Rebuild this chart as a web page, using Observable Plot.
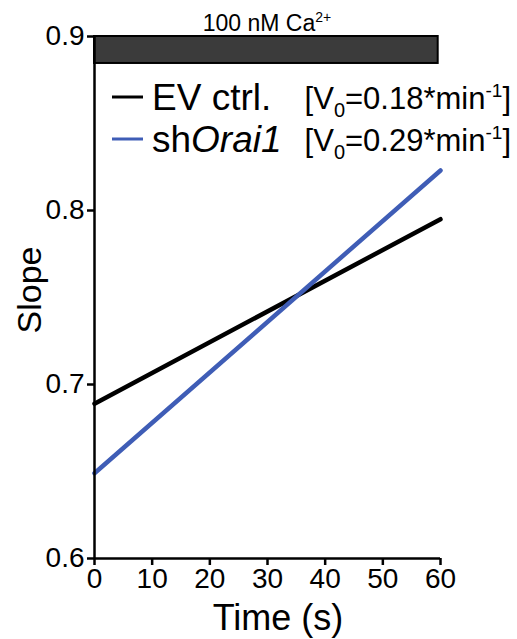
<!DOCTYPE html>
<html>
<head>
<meta charset="utf-8">
<script src="https://cdn.jsdelivr.net/npm/d3@7"></script>
<script src="https://cdn.jsdelivr.net/npm/@observablehq/plot@0.6"></script>
<style>
  body { margin: 0; background: #fff; }
  #chart { position: relative; width: 517px; height: 639px; }
  svg { font-family: "Liberation Sans", Arial, sans-serif; }
</style>
</head>
<body>
<div id="chart"></div>
<script>
// ---- data ----
const seriesNames = ["EV ctrl.", "shOrai1"];
const seriesColors = ["#000000", "#3f5db6"];
const timePoints = [0, 60];
const evValues = [0.689, 0.795];
const orai1Values = [0.649, 0.823];
const rateLabels = ["0.18", "0.29"];
const xTicks = [0, 10, 20, 30, 40, 50, 60];
const yTicks = [0.6, 0.7, 0.8, 0.9];
const stimulusLabel = "100 nM Ca";
const stimulusStart = [0];
const stimulusEnd = [59.6];
const stimulusBottom = [0.8845];
const stimulusTop = [0.9];

const lineData = [
  ...timePoints.map((t, i) => ({series: seriesNames[0], time: t, slope: evValues[i]})),
  ...timePoints.map((t, i) => ({series: seriesNames[1], time: t, slope: orai1Values[i]}))
];
const barData = stimulusStart.map((s, i) => ({x1: s, x2: stimulusEnd[i], y1: stimulusBottom[i], y2: stimulusTop[i]}));

const plot = Plot.plot({
  width: 517,
  height: 639,
  marginLeft: 94,
  marginRight: 77,
  marginTop: 36,
  marginBottom: 81,
  style: {fontFamily: '"Liberation Sans", Arial, sans-serif', background: "#fff", color: "#000"},
  x: {domain: [0, 60]},
  y: {domain: [0.6, 0.9]},
  color: {domain: seriesNames, range: seriesColors},
  marks: [
    Plot.line(lineData, {x: "time", y: "slope", stroke: "series", strokeWidth: 4.5, strokeLinecap: "round"}),
    Plot.rect(barData, {x1: "x1", x2: "x2", y1: "y1", y2: "y2", fill: "#3b3b3b", stroke: "#000", strokeWidth: 2}),
    Plot.ruleX([0], {strokeWidth: 2.5}),
    Plot.ruleY([0.6], {strokeWidth: 2.5}),
    Plot.axisX({ticks: xTicks, tickSize: 7, tickPadding: 3, strokeWidth: 2.5, fontSize: 28, tickFormat: d3.format("d"), label: null}),
    Plot.axisY({ticks: yTicks, tickSize: 7, tickPadding: 3, strokeWidth: 2.5, fontSize: 28, tickFormat: d3.format(".1f"), label: null}),
  ]
});
document.getElementById("chart").appendChild(plot);

const svg = d3.select(plot);
const xs = plot.scale("x"), ys = plot.scale("y");
const font = '"Liberation Sans", Arial, sans-serif';

// axis titles
svg.append("text").attr("x", 278).attr("y", 630)
  .attr("text-anchor", "middle").attr("font-size", 36).attr("font-family", font).text("Time (s)");
svg.append("text").attr("transform", "translate(41,290) rotate(-90)")
  .attr("text-anchor", "middle").attr("font-size", 34).attr("font-family", font).text("Slope");

// stimulus label
const st = svg.append("text").attr("x", xs.apply(30)).attr("y", 31)
  .attr("text-anchor", "middle").attr("font-size", 23).attr("font-family", font);
st.append("tspan").text(stimulusLabel);
st.append("tspan").attr("font-size", 14).attr("dy", -9).text("2+");

// legend
const rowsY = [97, 139];
seriesNames.forEach((name, i) => {
  const y = rowsY[i];
  svg.append("line").attr("x1", 112).attr("x2", 143).attr("y1", y).attr("y2", y)
    .attr("stroke", seriesColors[i]).attr("stroke-width", 3);
  const t = svg.append("text").attr("x", 152).attr("y", y + 13)
    .attr("text-anchor", "start").attr("font-size", 37).attr("font-family", font);
  if (name === "shOrai1") {
    t.append("tspan").text("sh");
    t.append("tspan").attr("font-style", "italic").text("Orai1");
  } else {
    t.text(name);
  }
  const r = svg.append("text").attr("x", 511).attr("y", y + 12)
    .attr("text-anchor", "end").attr("font-size", 31).attr("font-family", font);
  r.append("tspan").text("[V");
  r.append("tspan").attr("font-size", 20).attr("dy", 8).text("0");
  r.append("tspan").attr("dy", -8).text("=" + rateLabels[i] + "*min");
  r.append("tspan").attr("font-size", 19).attr("dy", -12).text("-1");
  r.append("tspan").attr("dy", 12).text("]");
});
</script>
</body>
</html>
